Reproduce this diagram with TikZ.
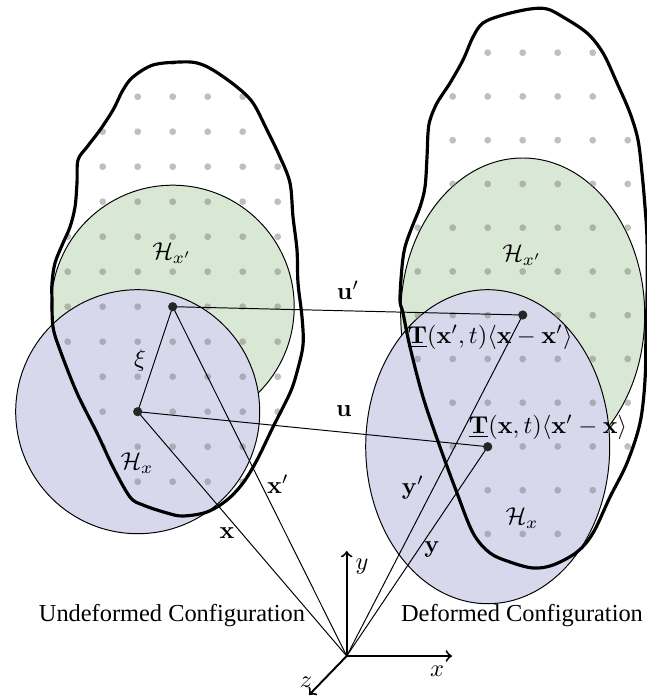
\documentclass[tikz,border=0pt]{standalone}
\usepackage[no-math]{fontspec}
\setmainfont{Liberation Serif}
\usepackage{amsmath}
\definecolor{hgreen}{RGB}{217,232,212}
\definecolor{hpurple}{RGB}{216,216,236}
\tikzset{
  blob/.style={line width=1.3pt, line join=round},
  thin line/.style={line width=0.4pt},
  gdot/.style={fill=black!50, fill opacity=0.5},
  pdot/.style={fill=black!85},
  axis/.style={line width=0.8pt, ->},
  lab/.style={inner sep=1pt},
}
\begin{document}
\begin{tikzpicture}[x=0.41pt,y=-0.41pt]
\useasboundingbox (0,0) rectangle (646,698);

% points
\coordinate (xpL) at (172.7,306.7);
\coordinate (xL)  at (137.7,411.7);
\coordinate (xpR) at (522.7,315);
\coordinate (xR)  at (487.7,446.7);
\coordinate (O)   at (346.7,656);
\coordinate (Ay)  at (346.7,551);
\coordinate (Ax)  at (452,656);
\coordinate (Az)  at (309,695);

% neighbourhoods, undeformed
\filldraw[fill=hgreen, thin line] (xpL) circle[radius=121.5];
\filldraw[fill=hpurple, thin line] (xL) circle[radius=122];
% neighbourhoods, deformed
\filldraw[fill=hgreen, thin line] (xpR) ellipse[x radius=122, y radius=157];
\filldraw[fill=hpurple, thin line] (xR) ellipse[x radius=122, y radius=157];

% grid dots, undeformed
\begin{scope}
\clip plot[smooth cycle, tension=0.55] coordinates {
(180,62) (197,63) (213,70) (237,87) (253,103) (267,130) (280,157) (290,183)
(293,217) (297,250) (298,283) (302,317) (303,345) (297,372) (290,393) (273,427)
(257,460) (243,483) (227,500) (207,512) (183,516) (167,513) (143,505) (130,497)
(113,467) (97,433) (77,393) (60,350) (53,327) (52,300) (52,283) (55,263) (63,243)
(70,227) (75,207) (77,183) (78,160) (87,147) (100,130) (113,110) (123,90) (133,77) (153,65)};
\foreach \i in {-1,...,8}
  \foreach \k in {-1,...,12}
    \fill[gdot] (67.7+35*\i, 96.7+35*\k) circle[radius=3.4];
\end{scope}

% grid dots, deformed
\begin{scope}
\clip plot[smooth cycle, tension=0.55] coordinates {
(530,9) (547,9) (563,17) (587,33) (603,53) (617,83) (630,113) (638,140) (642,173)
(645,207) (647,240) (647,300) (646,330) (645,380) (640,423) (627,463) (610,497)
(593,533) (577,552) (553,565) (533,568) (510,562) (490,553) (473,533) (457,493)
(440,447) (423,397) (410,347) (403,313) (400,300) (402,267) (405,247) (412,227)
(420,207) (425,187) (427,157) (428,133) (430,120) (437,103) (450,83) (463,60)
(473,37) (483,23) (503,15)};
\foreach \i in {-1,...,8}
  \foreach \k in {-1,...,12}
    \fill[gdot] (417.7+35*\i, 52.7+43.75*\k) circle[radius=3.4];
\end{scope}

% bodies
\draw[blob] plot[smooth cycle, tension=0.55] coordinates {
(180,62) (197,63) (213,70) (237,87) (253,103) (267,130) (280,157) (290,183)
(293,217) (297,250) (298,283) (302,317) (303,345) (297,372) (290,393) (273,427)
(257,460) (243,483) (227,500) (207,512) (183,516) (167,513) (143,505) (130,497)
(113,467) (97,433) (77,393) (60,350) (53,327) (52,300) (52,283) (55,263) (63,243)
(70,227) (75,207) (77,183) (78,160) (87,147) (100,130) (113,110) (123,90) (133,77) (153,65)};
\draw[blob] plot[smooth cycle, tension=0.55] coordinates {
(530,9) (547,9) (563,17) (587,33) (603,53) (617,83) (630,113) (638,140) (642,173)
(645,207) (647,240) (647,300) (646,330) (645,380) (640,423) (627,463) (610,497)
(593,533) (577,552) (553,565) (533,568) (510,562) (490,553) (473,533) (457,493)
(440,447) (423,397) (410,347) (403,313) (400,300) (402,267) (405,247) (412,227)
(420,207) (425,187) (427,157) (428,133) (430,120) (437,103) (450,83) (463,60)
(473,37) (483,23) (503,15)};

% connectors
\draw[thin line] (xL) -- (xpL);
\draw[thin line] (xpL) -- (xpR);
\draw[thin line] (xL) -- (xR);
\draw[thin line] (O) -- (xL);
\draw[thin line] (O) -- (xpL);
\draw[thin line] (O) -- (xR);
\draw[thin line] (O) -- (xpR);

% axes
\draw[axis] (O) -- (Ay);
\draw[axis] (O) -- (Ax);
\draw[axis] (O) -- (Az);

% material points
\foreach \p in {xpL,xL,xpR,xR} \fill[pdot] (\p) circle[radius=4.6];

% labels
\node[lab] (lhxp) at (172,253) {$\mathcal{H}_{x'}$};
\node[lab] (lhx)  at (137,463) {$\mathcal{H}_x$};
\node[lab] (rhxp) at (522,255) {$\mathcal{H}_{x'}$};
\node[lab] (rhx)  at (522,518) {$\mathcal{H}_x$};
\node[lab] (lxi)  at (140,360) {$\xi$};
\node[lab] (lxp)  at (278,484) {$\mathbf{x}'$};
\node[lab] (lx)   at (227,533) {$\mathbf{x}$};
\node[lab] (lup)  at (348,290) {$\mathbf{u}'$};
\node[lab] (lu)   at (344,411) {$\mathbf{u}$};
\node[lab] (lyp)  at (413,488) {$\mathbf{y}'$};
\node[lab] (ly)   at (432,549) {$\mathbf{y}$};
\node[lab] (lT1)  at (490,337) {$\underline{\mathbf{T}}(\mathbf{x}',t)\langle\mathbf{x}-\mathbf{x}'\rangle$};
\node[lab] (lT2)  at (548,427) {$\underline{\mathbf{T}}(\mathbf{x},t)\langle\mathbf{x}'-\mathbf{x}\rangle$};
\node[lab] (ay)   at (362,567) {$y$};
\node[lab] (ax)   at (437,671) {$x$};
\node[lab] (az)   at (306,682) {$z$};
\node[lab] (tU)   at (172,616) {Undeformed Configuration};
\node[lab] (tD)   at (522,616) {Deformed Configuration};
\end{tikzpicture}
\end{document}
